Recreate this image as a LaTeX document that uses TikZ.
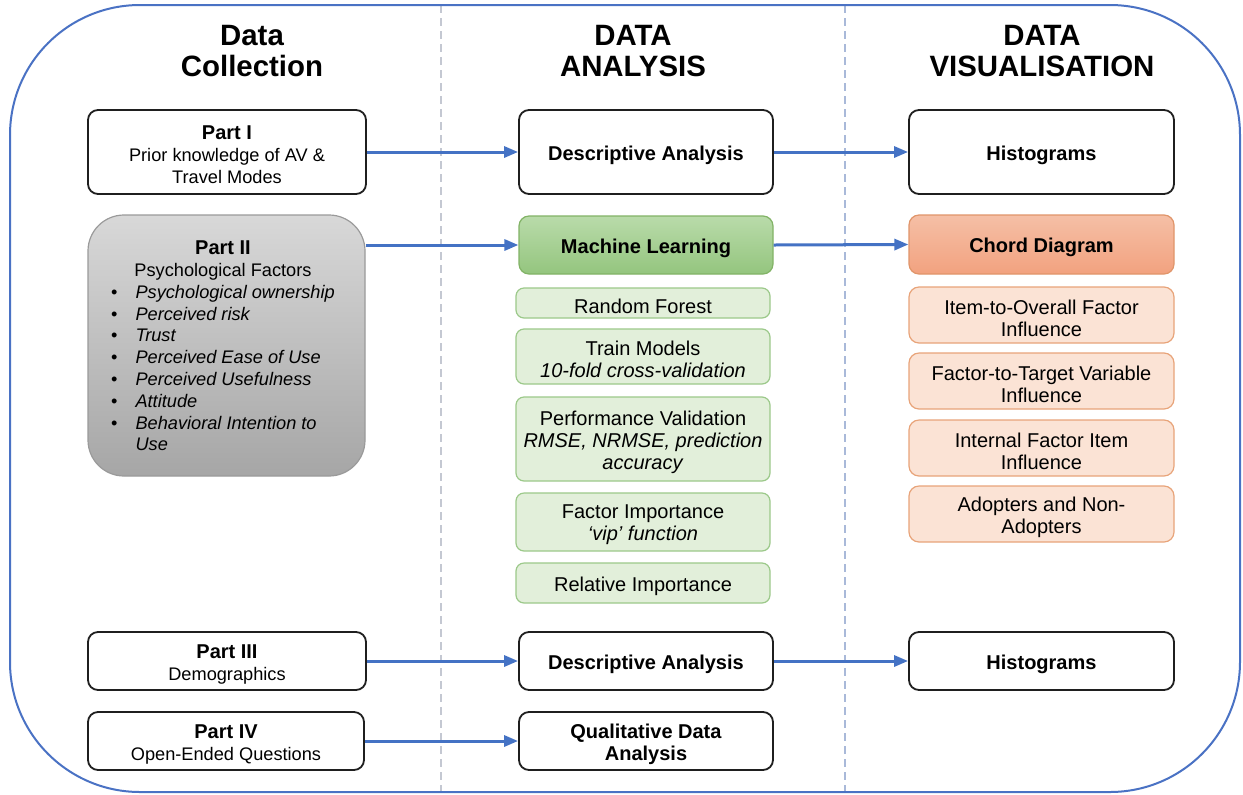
\documentclass[tikz,border=0pt]{standalone}
\usepackage{fontspec}
\setmainfont{Liberation Sans}
\usetikzlibrary{arrows.meta}
\definecolor{frameblue}{HTML}{4A72C4}
\definecolor{arrowblue}{HTML}{4472C4}
\definecolor{sepgray}{HTML}{C4C8D2}
\definecolor{sepblue}{HTML}{A9B9D9}
\definecolor{mltop}{HTML}{B9DBAA}
\definecolor{mlbot}{HTML}{94C57E}
\definecolor{mlborder}{HTML}{82B366}
\definecolor{lgreen}{HTML}{E2EFDA}
\definecolor{lgborder}{HTML}{9CC98A}
\definecolor{cdtop}{HTML}{F5BFA6}
\definecolor{cdbot}{HTML}{F2A27F}
\definecolor{cdborder}{HTML}{E0956A}
\definecolor{lorange}{HTML}{FBE3D5}
\definecolor{loborder}{HTML}{E8A47A}
\definecolor{gtop}{HTML}{D8D8D8}
\definecolor{gbot}{HTML}{A6A6A6}
\definecolor{gborder}{HTML}{9A9A9A}
\tikzset{
  sz/.style 2 args={minimum width=#1*0.5pt, minimum height=#2*0.5pt},
  base/.style={align=center, inner sep=0pt, font=\fontsize{10}{11}\selectfont},
  small/.style={align=center, inner sep=0pt, font=\fontsize{9.1}{11}\selectfont},
  wbox/.style={draw=black!88, line width=0.9pt, rounded corners=5pt, fill=white},
  mlbox/.style={draw=mlborder, line width=0.6pt, rounded corners=5pt, top color=mltop, bottom color=mlbot},
  gbox/.style={draw=lgborder, line width=0.6pt, rounded corners=4pt, fill=lgreen},
  cdbox/.style={draw=cdborder, line width=0.6pt, rounded corners=5pt, top color=cdtop, bottom color=cdbot},
  obox/.style={draw=loborder, line width=0.6pt, rounded corners=5pt, fill=lorange},
  pbox/.style={draw=gborder, line width=0.6pt, rounded corners=18pt, top color=gtop, bottom color=gbot},
  head/.style={align=center, inner sep=0pt, font=\fontsize{14.7}{15.6}\selectfont\bfseries},
  arr/.style={draw=arrowblue, line width=1.5pt, -{Triangle[length=7pt,width=5.5pt]}},
  sep/.style={dashed, dash pattern=on 4pt off 2.5pt, line width=0.6pt}
}
% box node + its text node, text lowered slightly
\newcommand\bxn[8]{%
  \node[#1, sz={#6}{#7}] (#3) at (#4,#5) {};
  \node[#2] (#3t) at ([yshift=-1.5pt]#3.center) {#8};}
\newcommand\ttl[1]{{\fontsize{10}{11}\selectfont\bfseries #1}}
\begin{document}
\begin{tikzpicture}[x=0.5pt,y=-0.5pt]
\useasboundingbox (0,0) rectangle (1243,794);
\fill[white] (0,0) rectangle (1243,794);
% separators
\draw[sep, draw=sepgray] (441,5) -- (441,792);
\draw[sep, draw=sepblue] (845,5) -- (845,792);
% outer frame
\draw[frameblue, line width=1pt, rounded corners=65pt] (10,5) rectangle (1240,792);
% headers
\node[head] (h1) at (252,51) {Data\\Collection};
\node[head] (h2) at (633,51) {DATA\\ANALYSIS};
\node[head] (h3) at (1042,51) {DATA\\VISUALISATION};
% column 1
\bxn{wbox}{small}{p1}{227}{152}{278}{84}{\ttl{Part I}\\Prior knowledge of AV \&\\Travel Modes}
\node[pbox, sz={277}{261}] (p2) at (226.5,345.5) {};
\node[small, anchor=north] (p2t) at (223,239) {%
  \fontsize{9.1}{10.9}\selectfont
  \begin{tabular}{@{}c@{\hspace{9pt}}l@{}}
  \multicolumn{2}{c}{\ttl{Part II}}\\
  \multicolumn{2}{c}{Psychological Factors}\\
  \textbullet & \textit{Psychological ownership}\\
  \textbullet & \textit{Perceived risk}\\
  \textbullet & \textit{Trust}\\
  \textbullet & \textit{Perceived Ease of Use}\\
  \textbullet & \textit{Perceived Usefulness}\\
  \textbullet & \textit{Attitude}\\
  \textbullet & \textit{Behavioral Intention to}\\
   & \textit{Use}
  \end{tabular}};
\bxn{wbox}{small}{p3}{227}{661}{278}{58}{\ttl{Part III}\\Demographics}
\bxn{wbox}{small}{p4}{226}{741}{276}{58}{\ttl{Part IV}\\Open-Ended Questions}
% column 2
\bxn{wbox}{base}{d1}{646}{152}{254}{84}{\textbf{Descriptive Analysis}}
\bxn{mlbox}{base}{ml}{646}{245}{254}{58}{\textbf{Machine Learning}}
\bxn{gbox}{base}{rf}{643}{303}{254}{30}{Random Forest}
\bxn{gbox}{base}{tm}{643}{356.5}{254}{55}{Train Models\\\textit{10-fold cross-validation}}
\bxn{gbox}{base}{pv}{643}{439}{254}{84}{Performance Validation\\\textit{RMSE, NRMSE, prediction}\\\textit{accuracy}}
\bxn{gbox}{base}{fi}{643}{522}{254}{58}{Factor Importance\\\textit{`vip' function}}
\bxn{gbox}{base}{ri}{643}{583}{254}{40}{Relative Importance}
\bxn{wbox}{base}{d2}{646}{661}{254}{58}{\textbf{Descriptive Analysis}}
\bxn{wbox}{base}{qa}{646}{741}{254}{58}{\textbf{Qualitative Data}\\\textbf{Analysis}}
% column 3
\bxn{wbox}{base}{hg1}{1041.5}{152}{265}{84}{\textbf{Histograms}}
\bxn{cdbox}{base}{cd}{1041.5}{244.5}{265}{59}{\textbf{Chord Diagram}}
\bxn{obox}{base}{io}{1041.5}{315}{265}{56}{Item-to-Overall Factor\\Influence}
\bxn{obox}{base}{ft}{1041.5}{381}{265}{56}{Factor-to-Target Variable\\Influence}
\bxn{obox}{base}{ifi}{1041.5}{448}{265}{56}{Internal Factor Item\\Influence}
\bxn{obox}{base}{ad}{1041.5}{514}{265}{56}{Adopters and Non-\\Adopters}
\bxn{wbox}{base}{hg2}{1041.5}{661}{265}{58}{\textbf{Histograms}}
% arrows
\draw[arr] (p1.east) -- (d1.west);
\draw[arr] (d1.east) -- (hg1.west);
\draw[arr] (p2.east |- ml.west) -- (ml.west);
\draw[arr] (ml.east) -- (cd.west);
\draw[arr] (p3.east) -- (d2.west);
\draw[arr] (d2.east) -- (hg2.west);
\draw[arr] (p4.east) -- (qa.west);
\end{tikzpicture}
\end{document}
